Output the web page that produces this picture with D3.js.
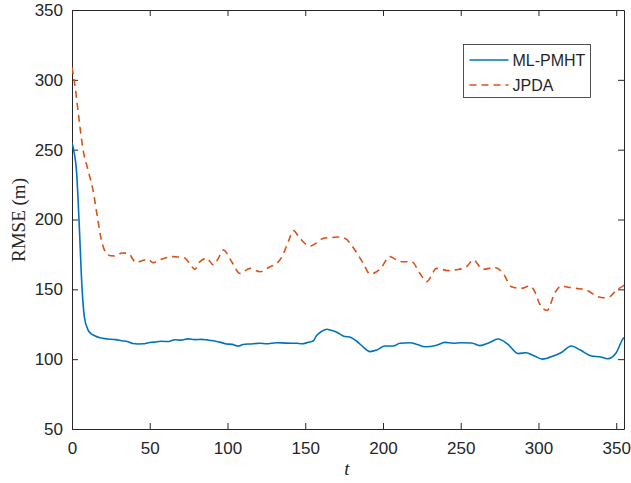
<!DOCTYPE html>
<html>
<head>
<meta charset="utf-8">
<script src="https://cdn.jsdelivr.net/npm/d3@7/dist/d3.min.js"></script>
<style>
  body { margin: 0; background: #fff; }
  svg { display: block; }
</style>
</head>
<body>
<script>
// ML-PMHT curve
const pmhtT = [0, 1, 3, 4.5, 6.5, 8, 10.3, 12, 14.6, 18, 23, 28, 32, 36, 39, 42.4, 46, 49, 53, 57.4, 61.7, 66, 70, 74.6, 79, 83.2, 87, 91, 95, 99.5, 103, 107, 110, 114.5, 121, 125, 131.6, 138, 144.5, 148, 152, 155, 157.3, 160, 163.8, 166, 170, 174.4, 179.7, 183, 187, 191.6, 196, 201.2, 206.6, 210.9, 217.3, 222, 227, 234.5, 239.8, 245.2, 250, 257, 262.3, 268, 274, 280, 287, 292, 297, 302.5, 310, 315, 321, 327, 334, 340, 344.5, 350, 354, 355];
const pmhtV = [255, 250, 233, 200, 150, 130, 121, 118.5, 116.8, 115.3, 114.4, 114, 113.2, 112.5, 111.2, 110.9, 111, 111.8, 112.2, 112.8, 112.6, 113.9, 113.6, 114.5, 114, 114.2, 113.8, 113.2, 112.2, 110.9, 110.6, 109.4, 110.5, 110.9, 111.4, 111, 111.8, 111.5, 111.4, 111, 112.1, 113, 116.9, 119.5, 121.4, 120.9, 119.5, 116.6, 115.4, 113, 109, 105.4, 106.5, 109.4, 109.4, 111.4, 111.8, 110.5, 108.9, 110, 112, 111.4, 111.8, 111.6, 109.7, 111.6, 114.4, 111, 104, 104.6, 102.5, 100, 102.5, 105, 109.4, 106.5, 102.3, 101.6, 100.3, 104.6, 114, 115.5];

// JPDA curve
const jpdaT = [0, 2, 4.5, 7.1, 10.3, 13.5, 16.3, 18.9, 22.1, 25, 28.5, 32, 36, 41.4, 45, 48.9, 52.1, 57.4, 60, 64.9, 68, 72.4, 76, 78.9, 82.3, 86.6, 90.9, 94, 97.3, 102.7, 108, 114.5, 120.9, 127.3, 131, 134.8, 139.1, 142.4, 146.6, 153, 157, 161.6, 168, 171, 175.5, 181.9, 187.3, 191.6, 198, 204.5, 208, 212, 218.4, 223.8, 228.1, 234.5, 242, 247, 251.6, 254, 258, 264.4, 271.9, 277.3, 282.6, 289, 294.4, 297.6, 300.8, 305.5, 310.4, 314.7, 319, 324.4, 330.8, 338.3, 342, 345.8, 350.1, 354.4, 355];
const jpdaV = [309, 295, 272, 250, 235.4, 221, 202, 185.3, 175.8, 174, 173.9, 176, 175.8, 169.1, 170.5, 171.5, 169.1, 171.5, 172.5, 173.4, 173.2, 172.5, 168, 164.3, 169.8, 172.2, 167.4, 172, 178.2, 169.8, 161.4, 165, 162.6, 166.2, 168, 172.9, 184.1, 192, 186.5, 181, 183, 186.5, 187.2, 187.5, 186.5, 178.2, 168.6, 161, 164.3, 173.4, 171.5, 169.8, 169.8, 161.4, 155.5, 165, 163.4, 164, 165, 166.5, 171, 164.3, 165.7, 161.4, 151.9, 150.7, 152.4, 148.4, 139.5, 134.8, 147.2, 152.4, 151.5, 150.7, 149.5, 144.7, 144, 144.7, 149.5, 152.4, 153];

const xTicks = [0, 50, 100, 150, 200, 250, 300, 350];
const yTicks = [50, 100, 150, 200, 250, 300, 350];
const seriesNames = ["ML-PMHT", "JPDA"];

const W = 631, H = 483;
const margin = { top: 10, right: 7, bottom: 54, left: 72 };
const width = W - margin.left - margin.right;
const height = H - margin.top - margin.bottom;
const axisColor = "#262626";

const svg = d3.select("body").append("svg")
  .attr("width", W).attr("height", H);

const g = svg.append("g")
  .attr("transform", "translate(" + margin.left + "," + margin.top + ")");

const x = d3.scaleLinear().domain([0, 355]).range([0, width]);
const y = d3.scaleLinear().domain([50, 350]).range([height, 0]);

// axes, ticks pointing inwards like MATLAB
function styleAxis(sel) {
  sel.selectAll("path").attr("stroke", axisColor).attr("stroke-width", 1);
  sel.selectAll("line").attr("stroke", axisColor).attr("stroke-width", 1);
  sel.selectAll("text").attr("fill", axisColor)
    .style("font-family", "'Liberation Sans', Arial, Helvetica, sans-serif")
    .style("font-size", "17px");
}

g.append("g")
  .attr("transform", "translate(0," + height + ")")
  .call(d3.axisBottom(x).tickValues(xTicks).tickSize(-6).tickSizeOuter(0).tickPadding(13))
  .call(styleAxis);

g.append("g")
  .call(d3.axisLeft(y).tickValues(yTicks).tickSize(-6).tickSizeOuter(0).tickPadding(9))
  .call(styleAxis);

g.append("g")
  .call(d3.axisTop(x).tickValues(xTicks).tickSize(-6).tickSizeOuter(0).tickFormat(""))
  .call(styleAxis);

g.append("g")
  .attr("transform", "translate(" + width + ",0)")
  .call(d3.axisRight(y).tickValues(yTicks).tickSize(-6).tickSizeOuter(0).tickFormat(""))
  .call(styleAxis);

// lines
g.append("clipPath").attr("id", "clip")
  .append("rect").attr("width", width).attr("height", height);

const line = d3.line()
  .x(d => x(d[0]))
  .y(d => y(d[1]))
  .curve(d3.curveMonotoneX);

const pmht = pmhtT.map((t, i) => [t, pmhtV[i]]);
const jpda = jpdaT.map((t, i) => [t, jpdaV[i]]);

g.append("path")
  .datum(jpda)
  .attr("clip-path", "url(#clip)")
  .attr("fill", "none")
  .attr("stroke", "#D95319")
  .attr("stroke-width", 1.6)
  .attr("stroke-dasharray", "7,5")
  .attr("d", line);

g.append("path")
  .datum(pmht)
  .attr("clip-path", "url(#clip)")
  .attr("fill", "none")
  .attr("stroke", "#0072BD")
  .attr("stroke-width", 1.6)
  .attr("d", line);

// axis labels
svg.append("text")
  .attr("x", 347).attr("y", 475)
  .attr("text-anchor", "middle")
  .style("font-family", "'Liberation Serif', 'Times New Roman', serif")
  .style("font-style", "italic")
  .style("font-size", "19px")
  .attr("fill", axisColor)
  .text("t");

svg.append("text")
  .attr("transform", "translate(25,220) rotate(-90)")
  .attr("text-anchor", "middle")
  .style("font-family", "'Liberation Serif', 'Times New Roman', serif")
  .style("font-size", "19px")
  .attr("fill", axisColor)
  .text("RMSE (m)");

// legend
const leg = svg.append("g").attr("transform", "translate(463.5,44.5)");
leg.append("rect")
  .attr("width", 127).attr("height", 53)
  .attr("fill", "#fff")
  .attr("stroke", axisColor).attr("stroke-width", 0.8);

const legColors = ["#0072BD", "#D95319"];
const legDash = [null, "7,5"];
seriesNames.forEach((name, i) => {
  const yy = 15.5 + i * 25;
  leg.append("line")
    .attr("x1", 6).attr("x2", 45).attr("y1", yy).attr("y2", yy)
    .attr("stroke", legColors[i]).attr("stroke-width", 1.6)
    .attr("stroke-dasharray", legDash[i]);
  leg.append("text")
    .attr("x", 49).attr("y", yy + 6)
    .style("font-family", "'Liberation Sans', Arial, Helvetica, sans-serif")
    .style("font-size", "16px")
    .attr("fill", axisColor)
    .text(name);
});
</script>
</body>
</html>
